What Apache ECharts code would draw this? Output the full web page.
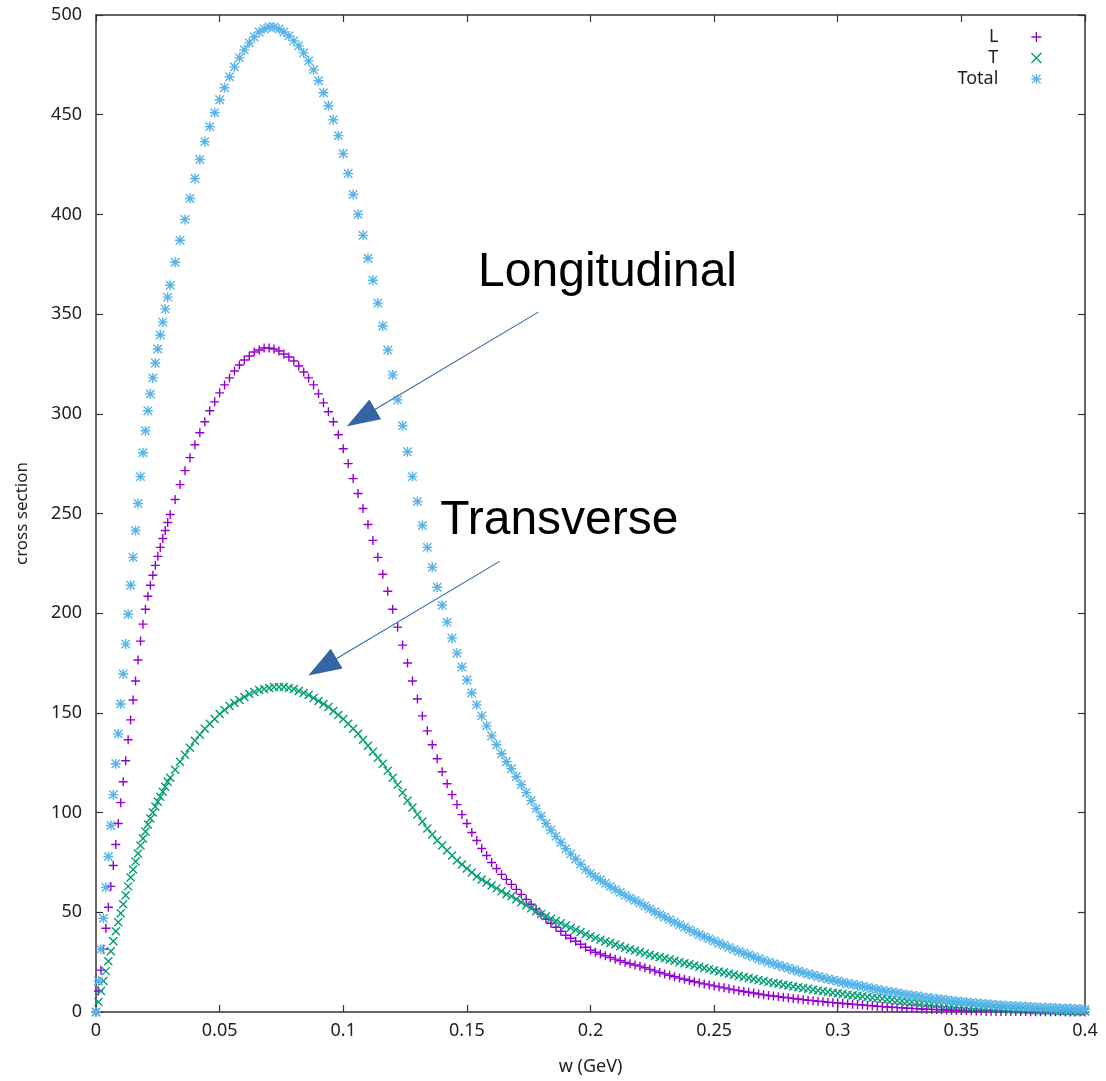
<!DOCTYPE html>
<html>
<head>
<meta charset="utf-8">
<title>cross section</title>
<script src="https://cdn.jsdelivr.net/npm/echarts@6/dist/echarts.min.js"></script>
<style>
html,body{margin:0;padding:0;background:#fff;}
#chart{width:1106px;height:1081px;}
</style>
</head>
<body>
<div id="chart"></div>
<script>
// w (GeV) sample points
var w = [
	0, 0.001, 0.002, 0.003, 0.004, 0.005, 0.006, 0.007, 0.008, 0.009, 0.010,
	0.011, 0.012, 0.013, 0.014, 0.015, 0.016, 0.017, 0.018, 0.019, 0.020,
	0.021, 0.022, 0.023, 0.024, 0.025, 0.026, 0.027, 0.028, 0.029, 0.030,
	0.032, 0.034, 0.036, 0.038, 0.040, 0.042, 0.044, 0.046, 0.048, 0.050,
	0.052, 0.054, 0.056, 0.058, 0.060, 0.062, 0.064, 0.066, 0.068, 0.070,
	0.072, 0.074, 0.076, 0.078, 0.080, 0.082, 0.084, 0.086, 0.088, 0.090,
	0.092, 0.094, 0.096, 0.098, 0.100, 0.102, 0.104, 0.106, 0.108, 0.110,
	0.112, 0.114, 0.116, 0.118, 0.120, 0.122, 0.124, 0.126, 0.128, 0.130,
	0.132, 0.134, 0.136, 0.138, 0.140, 0.142, 0.144, 0.146, 0.148, 0.150,
	0.152, 0.154, 0.156, 0.158, 0.160, 0.162, 0.164, 0.166, 0.168, 0.170,
	0.172, 0.174, 0.176, 0.178, 0.180, 0.182, 0.184, 0.186, 0.188, 0.190,
	0.192, 0.194, 0.196, 0.198, 0.200, 0.202, 0.204, 0.206, 0.208, 0.210,
	0.212, 0.214, 0.216, 0.218, 0.220, 0.222, 0.224, 0.226, 0.228, 0.230,
	0.232, 0.234, 0.236, 0.238, 0.240, 0.242, 0.244, 0.246, 0.248, 0.250,
	0.252, 0.254, 0.256, 0.258, 0.260, 0.262, 0.264, 0.266, 0.268, 0.270,
	0.272, 0.274, 0.276, 0.278, 0.280, 0.282, 0.284, 0.286, 0.288, 0.290,
	0.292, 0.294, 0.296, 0.298, 0.300, 0.302, 0.304, 0.306, 0.308, 0.310,
	0.312, 0.314, 0.316, 0.318, 0.320, 0.322, 0.324, 0.326, 0.328, 0.330,
	0.332, 0.334, 0.336, 0.338, 0.340, 0.342, 0.344, 0.346, 0.348, 0.350,
	0.352, 0.354, 0.356, 0.358, 0.360, 0.362, 0.364, 0.366, 0.368, 0.370,
	0.372, 0.374, 0.376, 0.378, 0.380, 0.382, 0.384, 0.386, 0.388, 0.390,
	0.392, 0.394, 0.396, 0.398, 0.400
];

// L (longitudinal)
var valL = [
	0, 10.5, 21, 31.5, 42, 52.5, 63, 73.5, 84, 94.5, 105,
	115.5, 126, 136.5, 146.5, 156.5, 166, 176.5, 186, 194.5, 202,
	208.5, 214, 219, 224, 228.5, 233, 237.5, 241.5, 245.5, 249.5,
	257, 264.5, 271.5, 278, 284.5, 290.5, 296, 301.5, 306, 310.5,
	314.5, 318, 321.5, 324.5, 327, 329, 331, 332, 333, 333,
	332.5, 331.5, 330, 328.5, 326.5, 324, 321, 318, 314.5, 310,
	305.5, 301, 296, 289.5, 282.5, 275, 267.5, 260, 252.5, 244.5,
	236.5, 228, 219.5, 211, 202, 193, 184, 175, 166, 157,
	148.5, 141, 134, 127, 120.5, 114.5, 109, 104, 99, 94.5,
	90, 86, 82, 78.5, 75, 72, 69, 66.5, 64, 61.5,
	59, 56.5, 54, 51.5, 49, 46.5, 44.5, 42.5, 40.5, 38.5,
	37, 35.5, 34, 32.5, 31, 30, 29.1, 28.2, 27.3, 26.5,
	25.7, 24.9, 24.2, 23.6, 23, 22.2, 21.4, 20.6, 19.8, 19.1,
	18.4, 17.7, 17, 16.4, 15.8, 15.2, 14.6, 14.1, 13.6, 13.1,
	12.6, 12.1, 11.6, 11.1, 10.7, 10.3, 9.9, 9.5, 9, 8.6,
	8.3, 8, 7.7, 7.4, 7.1, 6.8, 6.5, 6.2, 5.9, 5.7,
	5.4, 5.2, 4.9, 4.7, 4.5, 4.3, 4.1, 3.9, 3.7, 3.5,
	3.3, 3.1, 2.9, 2.7, 2.5, 2.4, 2.2, 2.1, 1.9, 1.8,
	1.7, 1.5, 1.4, 1.3, 1.2, 1.1, 1, 0.9, 0.8, 0.7,
	0.7, 0.6, 0.5, 0.5, 0.4, 0.4, 0.3, 0.3, 0.3, 0.2,
	0.2, 0.2, 0.2, 0.1, 0.1, 0.1, 0.1, 0.1, 0.1, 0.1,
	0, 0, 0, 0, 0
];

// T (transverse)
var valT = [
	0, 5, 10.5, 15.5, 20.5, 25.5, 30.5, 35.5, 40.5, 45, 49.5,
	54, 58.5, 63, 67.5, 71.5, 75.5, 79.5, 83.5, 87, 90.5,
	94, 97, 100, 103, 105.5, 108, 110.5, 113, 115.5, 117.5,
	121.5, 125.5, 129, 132.5, 136, 139, 142, 144.5, 147, 149.5,
	151.5, 153.5, 155, 156.5, 158, 159.5, 160.5, 161.5, 162, 162.5,
	163, 163, 163, 162.5, 162, 161, 160, 159, 157.5, 156,
	154.5, 153, 151, 149, 147, 144.5, 142, 139.5, 136.5, 133.5,
	130.5, 127.5, 124.5, 121, 117.5, 114, 110, 106, 102.5, 99,
	95.5, 92, 89, 86, 83.5, 81, 78.5, 76, 74, 72,
	70, 68, 66.5, 65, 63.5, 62, 60.5, 59, 58, 56.5,
	55, 53.5, 52, 50.5, 49.2, 48, 46.8, 45.6, 44.5, 43.4,
	42.3, 41.2, 40.1, 39, 38, 37.1, 36.2, 35.4, 34.6, 33.8,
	33, 32.2, 31.5, 30.8, 30.1, 29.4, 28.7, 28.1, 27.5, 26.9,
	26.3, 25.7, 25.1, 24.5, 23.9, 23.3, 22.7, 22.1, 21.5, 20.9,
	20.3, 19.8, 19.2, 18.7, 18.1, 17.6, 17.1, 16.6, 16.1, 15.6,
	15.1, 14.6, 14.2, 13.7, 13.3, 12.8, 12.4, 12, 11.6, 11.2,
	10.8, 10.4, 10, 9.7, 9.4, 9, 8.7, 8.4, 8.1, 7.8,
	7.5, 7.2, 6.9, 6.6, 6.3, 6.1, 5.8, 5.5, 5.3, 5,
	4.8, 4.6, 4.3, 4.1, 3.9, 3.7, 3.5, 3.3, 3.1, 2.9,
	2.7, 2.6, 2.4, 2.2, 2.1, 1.9, 1.8, 1.7, 1.5, 1.4,
	1.3, 1.2, 1.1, 1, 0.9, 0.8, 0.7, 0.7, 0.6, 0.5,
	0.5, 0.4, 0.4, 0.3, 0.3
];

// Total
var valTotal = [
	0, 15.5, 31.5, 47, 62.5, 78, 93.5, 109, 124.5, 139.5, 154.5,
	169.5, 184.5, 199.5, 214, 228, 241.5, 255, 268.5, 280.5, 291.5,
	301.5, 310, 318, 325.5, 332.5, 339.5, 346, 352.5, 358.5, 364.5,
	376, 387, 397.5, 408, 418, 427.5, 436.5, 444, 451, 457.5,
	463.5, 469, 474, 478.5, 482.5, 486, 489, 491.5, 493, 494,
	494, 493, 491.5, 489.5, 487, 484.5, 481, 477, 472.5, 467,
	461, 454.5, 447.5, 439.5, 430.5, 420.5, 410, 400, 389.5, 378,
	367, 355.5, 344, 332, 319.5, 307, 294, 281, 268.5, 256,
	244, 233, 223, 213, 204, 195.5, 187.5, 180, 173, 166.5,
	160, 154, 148.5, 143.5, 138.5, 134, 129.5, 125.5, 122, 118,
	114, 110, 106, 102, 98.2, 94.5, 91.3, 88.1, 85, 81.9,
	79.3, 76.7, 74.1, 71.5, 69.5, 67.8, 66.2, 64.6, 63, 61.5,
	60, 58.5, 57.2, 56, 54.7, 53.2, 51.7, 50.3, 48.9, 47.6,
	46.3, 45, 43.7, 42.5, 41.3, 40.1, 38.9, 37.8, 36.7, 35.6,
	34.5, 33.5, 32.4, 31.4, 30.4, 29.5, 28.6, 27.7, 26.7, 25.8,
	25, 24.2, 23.5, 22.7, 22, 21.2, 20.5, 19.8, 19.1, 18.5,
	17.8, 17.2, 16.5, 16, 15.4, 14.8, 14.3, 13.8, 13.3, 12.8,
	12.3, 11.8, 11.3, 10.8, 10.3, 10, 9.5, 9.1, 8.7, 8.3,
	8, 7.6, 7.2, 6.9, 6.6, 6.3, 6, 5.7, 5.4, 5.1,
	4.9, 4.7, 4.4, 4.2, 4, 3.8, 3.6, 3.4, 3.2, 3,
	2.9, 2.8, 2.7, 2.5, 2.4, 2.3, 2.2, 2.1, 2, 1.9,
	1.8, 1.7, 1.6, 1.5, 1.4
];

var xTicks = [0, 0.05, 0.1, 0.15, 0.2, 0.25, 0.3, 0.35, 0.4];
var yTicks = [0, 50, 100, 150, 200, 250, 300, 350, 400, 450, 500];

// annotation arrows: [start, end] in data space
var arrowL = [[0.1789, 351], [0.1072, 298]];
var arrowT = [[0.1632, 226], [0.0916, 173]];

var symPlus = 'path://M0,5L10,5M5,0L5,10';
var symCross = 'path://M0,0L10,10M10,0L0,10';
var symStar = 'path://M0,5L10,5M5,0L5,10M0.8,0.8L9.2,9.2M9.2,0.8L0.8,9.2';

var font = 'Noto Sans';
var axisColor = '#333';

var pairs = function(ys){
	var arr = [];
	for (var i = 0; i < w.length; i++) {
		arr.push([w[i], ys[i]]);
	}
	return arr;
};

var fmtX = function(v){
	for (var i = 0; i < xTicks.length; i++) {
		if (Math.abs(xTicks[i] - v) < 1e-9) return String(xTicks[i]);
	}
	return '';
};

var baseX = function(pos){
	return {
		type: 'value', min: 0, max: 0.4, interval: 0.05, position: pos,
		axisLine: {show: true, onZero: false, lineStyle: {color: axisColor, width: 1.5}},
		axisTick: {show: true, inside: true, length: 7, lineStyle: {color: axisColor, width: 1.2}},
		axisLabel: {show: pos == 'bottom', formatter: fmtX, fontSize: 18, fontFamily: font, color: '#222', margin: 10},
		splitLine: {show: false}
	};
};
var baseY = function(pos){
	return {
		type: 'value', min: 0, max: 500, interval: 50, position: pos,
		axisLine: {show: true, onZero: false, lineStyle: {color: axisColor, width: 1.5}},
		axisTick: {show: true, inside: true, length: 7, lineStyle: {color: axisColor, width: 1.2}},
		axisLabel: {show: pos == 'left', fontSize: 18, fontFamily: font, color: '#222', margin: 14},
		splitLine: {show: false}
	};
};

var xBottom = baseX('bottom');
xBottom.name = 'w (GeV)';
xBottom.nameLocation = 'middle';
xBottom.nameGap = 46;
xBottom.nameTextStyle = {fontSize: 18, fontFamily: font, color: '#222'};
var yLeft = baseY('left');
yLeft.name = 'cross section';
yLeft.nameLocation = 'middle';
yLeft.nameGap = 65;
yLeft.nameTextStyle = {fontSize: 17, fontFamily: font, color: '#222'};

var scatterSeries = function(name, ys, sym, color, size){
	return {
		name: name, type: 'scatter', data: pairs(ys), xAxisIndex: 0, yAxisIndex: 0,
		symbol: sym, symbolSize: size,
		itemStyle: {color: 'transparent', borderColor: color, borderWidth: 1.4, opacity: 1},
		emphasis: {disabled: true}
	};
};

var sTotal = scatterSeries('Total', valTotal, symStar, '#56b4e9', 10);
sTotal.markLine = {
	silent: true,
	animation: false,
	label: {show: false},
	lineStyle: {color: '#3465a4', width: 1.1, type: 'solid'},
	data: [
		[{coord: arrowL[0], symbol: 'none'}, {coord: arrowL[1], symbol: 'triangle', symbolSize: [23, 33]}],
		[{coord: arrowT[0], symbol: 'none'}, {coord: arrowT[1], symbol: 'triangle', symbolSize: [23, 33]}]
	]
};
sTotal.markPoint = {
	silent: true,
	animation: false,
	symbol: 'rect', symbolSize: 1,
	itemStyle: {color: 'transparent'},
	label: {show: true, position: 'inside', formatter: '{b}', fontSize: 48, fontFamily: 'Liberation Sans', color: '#000'},
	data: [
		{name: 'Longitudinal', coord: [0.2069, 370.5]},
		{name: 'Transverse', coord: [0.1874, 246.5]}
	]
};

var chart = echarts.init(document.getElementById('chart'), null, {renderer: 'canvas'});
chart.setOption({
	animation: false,
	backgroundColor: '#fff',
	grid: {left: 96, right: 21, top: 15, bottom: 67, containLabel: false},
	legend: {
		orient: 'vertical', right: 59, top: 22, align: 'right',
		itemWidth: 10, itemHeight: 10, itemGap: 1,
		selectedMode: false,
		itemStyle: {borderWidth: 1.3},
		textStyle: {fontSize: 18, fontFamily: font, color: '#222', width: 50, align: 'right', padding: [0, 28, 0, 0], lineHeight: 20},
		data: ['L', 'T', 'Total']
	},
	xAxis: [xBottom, baseX('top')],
	yAxis: [yLeft, baseY('right')],
	series: [
		scatterSeries('L', valL, symPlus, '#9400d3', 9),
		scatterSeries('T', valT, symCross, '#009e73', 8),
		sTotal
	]
});
</script>
</body>
</html>
